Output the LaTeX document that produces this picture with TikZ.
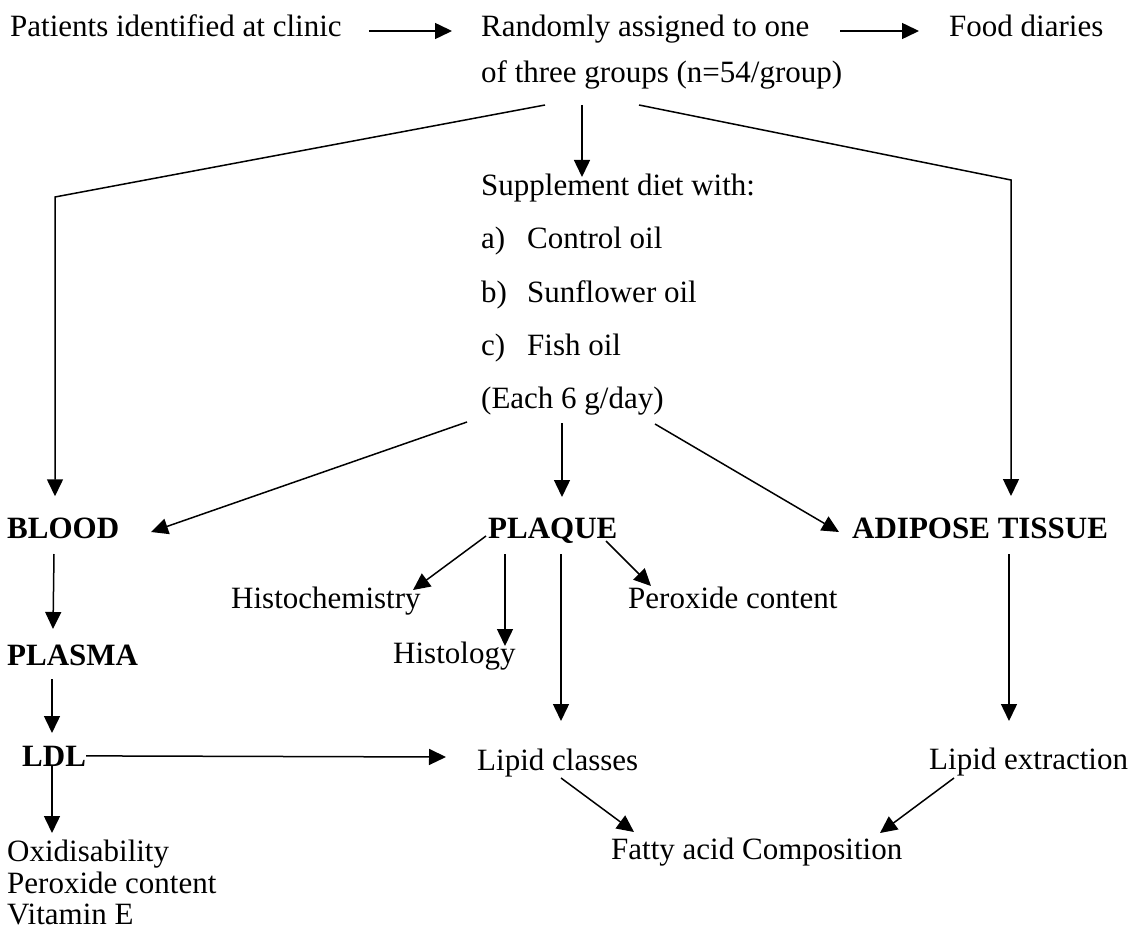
\documentclass[tikz,border=0pt]{standalone}
\usepackage{fontspec}
\setmainfont{Liberation Serif}
\usetikzlibrary{arrows.meta,calc}
\begin{document}
\begin{tikzpicture}[x=1pt,y=-1pt,
  every node/.style={inner sep=0pt,font=\fontsize{31}{32}\selectfont},
  txt/.style={anchor=base west},
  bld/.style={anchor=base west,font=\fontsize{31}{32}\selectfont\bfseries},
  arr/.style={line width=1.5pt,-{Triangle[length=17pt,width=16pt]}}]
\fill[white] (0,0) rectangle (1132,933);
\useasboundingbox (0,0) rectangle (1132,933);
% top row
\node[txt] (pat) at (10,37) {Patients identified at clinic};
\node[txt] (rand) at (481,37) {Randomly assigned to one};
\node[txt] (food) at (949,37) {Food diaries};
\node[txt] (grp) at (481,83) {of three groups (n=54/group)};
% supplement block
\node[txt] (supp) at (481,196) {Supplement diet with:};
\node[txt] (oa) at (481,249) {\makebox[46pt][l]{a)}Control oil};
\node[txt] (ob) at (481,302) {\makebox[46pt][l]{b)}Sunflower oil};
\node[txt] (oc) at (481,355) {\makebox[46pt][l]{c)}Fish oil};
\node[txt] (each) at (481,408) {(Each 6 g/day)};
% middle row
\node[bld] (blood) at (7,538) {BLOOD};
\node[bld] (plaque) at (488,538) {PLAQUE};
\node[bld] (adip) at (852,538) {ADIPOSE TISSUE};
\node[txt] (histc) at (231,608) {Histochemistry};
\node[txt] (perox) at (628,608) {Peroxide content};
\node[bld] (plasma) at (7,665) {PLASMA};
\node[txt] (histo) at (393,663) {Histology};
\node[bld] (ldl) at (22,766) {LDL};
\node[txt] (lipc) at (477,770) {Lipid classes};
\node[txt] (lipe) at (929,769) {Lipid extraction};
\node[txt] (fatty) at (611,859) {Fatty acid Composition};
\node[txt] (oxid) at (7,861) {Oxidisability};
\node[txt] (pcont) at (7,893) {Peroxide content};
\node[txt] (vite) at (7,924) {Vitamin E};
% coordinates for bends
\coordinate (lc) at (55,197);
\coordinate (rc) at (1011,180);
% top arrows
\draw[arr] ($(pat.base east)+(27,-6)$) -- ($(rand.base west)+(-29,-6)$);
\draw[arr] ($(rand.base west)+(359,-6)$) -- ($(food.base west)+(-30,-6)$);
\draw[arr] ($(grp.base west)+(64,22)$) -- (lc) -- ($(lc |- blood.north)+(0,-21)$);
\draw[arr] ($(grp.base west)+(101,22)$) -- ($(supp.base west)+(101,-19)$);
\draw[arr] ($(grp.base west)+(158,22)$) -- (rc) -- ($(adip.base west)+(159,-42)$);
% from (Each 6 g/day)
\draw[arr] ($(each.base west)+(-14,14)$) -- ($(blood.base west)+(144,-6)$);
\draw[arr] ($(each.base west)+(81,15)$) -- ($(plaque.base west)+(74,-41)$);
\draw[arr] ($(each.base west)+(174,16)$) -- ($(adip.base west)+(-13,-6)$);
% blood column
\draw[arr] ($(blood.base west)+(47,16)$) -- ($(plasma.base west)+(46,-36)$);
\draw[arr] ($(plasma.base west)+(45,14)$) -- ($(ldl.base west)+(30,-33)$);
\draw[arr] ($(ldl.base west)+(30,0)$) -- ($(oxid.base west)+(45,-28)$);
\draw[arr] (ldl.east) -- ($(lipc.base west)+(-31,-13)$);
% plaque
\draw[arr] ($(plaque.base west)+(-2,-2)$) -- ($(histc.base west)+(182,-18)$);
\draw[arr] ($(plaque.base west)+(17,16)$) -- ($(histo.base west)+(112,-17)$);
\draw[arr] ($(plaque.base west)+(73,16)$) -- ($(lipc.base west)+(84,-49)$);
\draw[arr] ($(plaque.base west)+(118,3)$) -- ($(perox.base west)+(23,-22)$);
% adipose
\draw[arr] ($(adip.base west)+(157,16)$) -- ($(lipe.base west)+(80,-48)$);
% fatty acid
\draw[arr] ($(lipc.base west)+(84,8)$) -- ($(fatty.base west)+(23,-27)$);
\draw[arr] ($(lipe.base west)+(25,9)$) -- ($(fatty.base west)+(269,-26)$);
\end{tikzpicture}
\end{document}
